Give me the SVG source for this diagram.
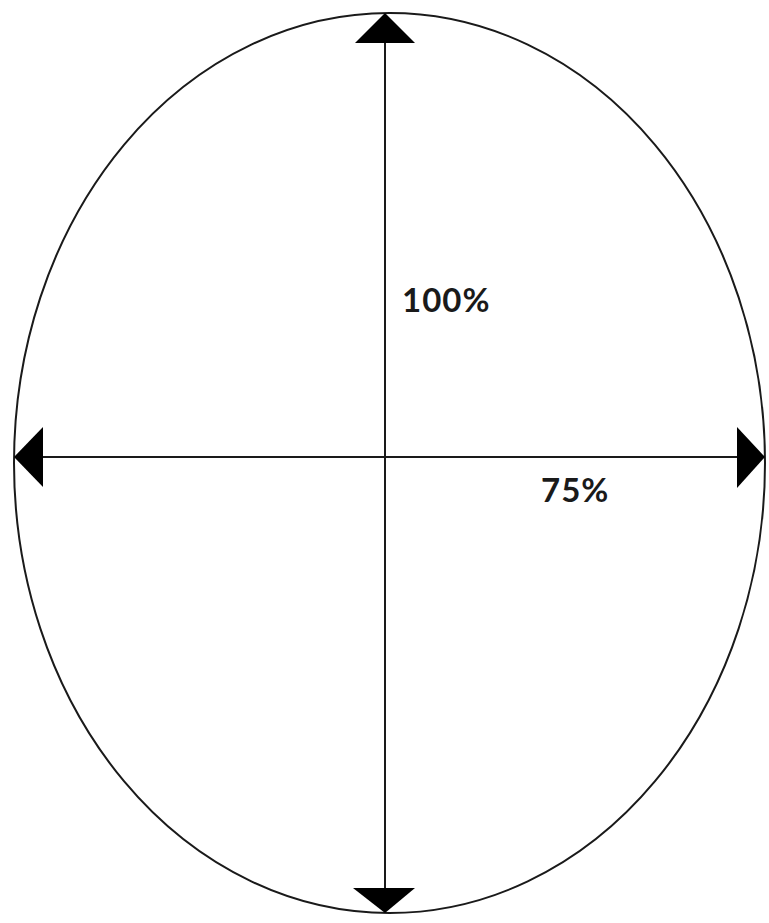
<svg xmlns="http://www.w3.org/2000/svg" width="769" height="923" viewBox="0 0 769 923">
<style>
.ln{stroke:#1a1a1a;stroke-width:2;fill:none}
.ah{fill:#000}
.lbl{font-family:Lato,"Open Sans",sans-serif;font-weight:bold;font-size:33px;letter-spacing:1px;fill:#1a1a1a}
</style>
<rect width="769" height="923" fill="#fff"/>
<g id="ellipse"><ellipse class="ln" cx="389.5" cy="463" rx="375.5" ry="450"/></g>
<g id="connectors">
<line class="ln" x1="385" y1="20" x2="385" y2="905"/>
<line class="ln" x1="20" y1="457" x2="760" y2="457"/>
<polygon class="ah" points="385,13 355,43 415,43"/>
<polygon class="ah" points="385,913 353,888 415,888"/>
<polygon class="ah" points="14,457 43,427 43,487"/>
<polygon class="ah" points="765,457 737,427 737,488"/>
</g>
<g id="label-100"><text class="lbl" x="402" y="312">100%</text></g>
<g id="label-75"><text class="lbl" x="541" y="502">75%</text></g>
</svg>
